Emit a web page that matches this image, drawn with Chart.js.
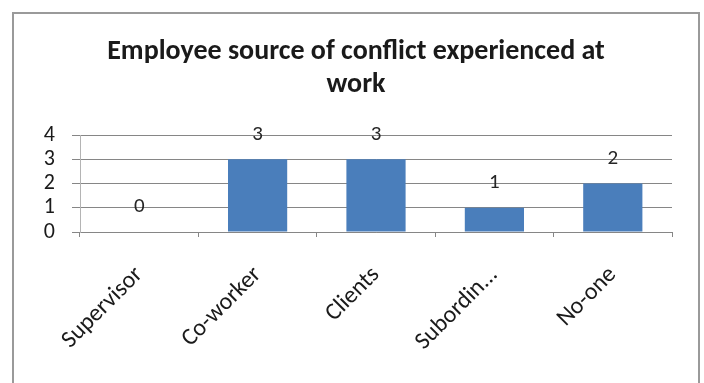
<!DOCTYPE html>
<html>
<head>
<meta charset="utf-8">
<script src="https://cdn.jsdelivr.net/npm/chart.js@4.4.1/dist/chart.umd.min.js"></script>
<style>
  html, body { margin: 0; padding: 0; background: #ffffff; }
  #wrap { position: relative; width: 704px; height: 383px; }
  canvas { display: block; }
</style>
</head>
<body>
<div id="wrap"><canvas id="chart" width="704" height="383"></canvas></div>
<script>
// Chart content
const titleLines = ['Employee source of conflict experienced at', 'work'];
const categories = ['Supervisor', 'Co-worker', 'Clients', 'Subordin...', 'No-one'];
const counts = [0, 3, 3, 1, 2];
const yTicks = [0, 1, 2, 3, 4];

const FONT = 'Carlito, Lato, "Liberation Sans", sans-serif';
const BAR_BLUE = '#4a7ebb';
const GRID_GREY = '#868686';

// Frame around the whole chart (runs off the bottom edge)
const framePlugin = {
  id: 'frame',
  beforeDraw(chart) {
    const ctx = chart.ctx;
    ctx.save();
    ctx.strokeStyle = '#9a9a9a';
    ctx.lineWidth = 2;
    ctx.strokeRect(13, 13, 686, 400);
    ctx.restore();
  }
};

// Value labels centred above each bar
const valueLabels = {
  id: 'valueLabels',
  afterDatasetsDraw(chart) {
    const ctx = chart.ctx;
    const meta = chart.getDatasetMeta(0);
    ctx.save();
    ctx.font = '21px ' + FONT;
    ctx.fillStyle = '#262626';
    ctx.textAlign = 'center';
    ctx.textBaseline = 'middle';
    meta.data.forEach((bar, i) => {
      ctx.fillText(String(counts[i]), bar.x, bar.y - 25);
    });
    ctx.restore();
  }
};

new Chart(document.getElementById('chart'), {
  type: 'bar',
  data: {
    labels: categories,
    datasets: [{
      data: counts,
      backgroundColor: BAR_BLUE,
      borderWidth: 0,
      barPercentage: 0.5,
      categoryPercentage: 1.0
    }]
  },
  options: {
    responsive: false,
    animation: false,
    layout: { padding: { left: 14, right: 6, top: 14, bottom: 0 } },
    plugins: {
      legend: { display: false },
      tooltip: { enabled: false },
      title: {
        display: true,
        text: titleLines,
        color: '#1a1a1a',
        font: { family: FONT, size: 28, weight: 'bold', lineHeight: 1.18 },
        padding: { top: 21, bottom: 34 }
      }
    },
    scales: {
      x: {
        grid: {
          offset: true,
          drawOnChartArea: false,
          drawTicks: true,
          tickLength: 5,
          color: GRID_GREY
        },
        border: { display: true, color: GRID_GREY, width: 1 },
        ticks: {
          color: '#1a1a1a',
          font: { family: FONT, size: 24 },
          minRotation: 45,
          maxRotation: 45,
          autoSkip: false,
          padding: 24
        },
        afterFit(scale) { scale.height = 151; }
      },
      y: {
        min: 0,
        max: 4,
        afterBuildTicks(scale) { scale.ticks = yTicks.map(v => ({ value: v })); },
        grid: {
          color: GRID_GREY,
          drawTicks: true,
          tickLength: 8
        },
        border: { display: true, color: '#b4b4b4', width: 1 },
        ticks: {
          color: '#1a1a1a',
          font: { family: FONT, size: 22 },
          autoSkip: false,
          stepSize: 1,
          padding: 17
        },
        afterFit(scale) { scale.width = 66; }
      },
      // empty right-hand gutter between the plot and the frame
      gutter: {
        type: 'linear',
        position: 'right',
        grid: { display: false },
        border: { display: false },
        ticks: { display: false },
        afterFit(scale) { scale.width = 26; }
      }
    }
  },
  plugins: [framePlugin, valueLabels]
});
</script>
</body>
</html>
